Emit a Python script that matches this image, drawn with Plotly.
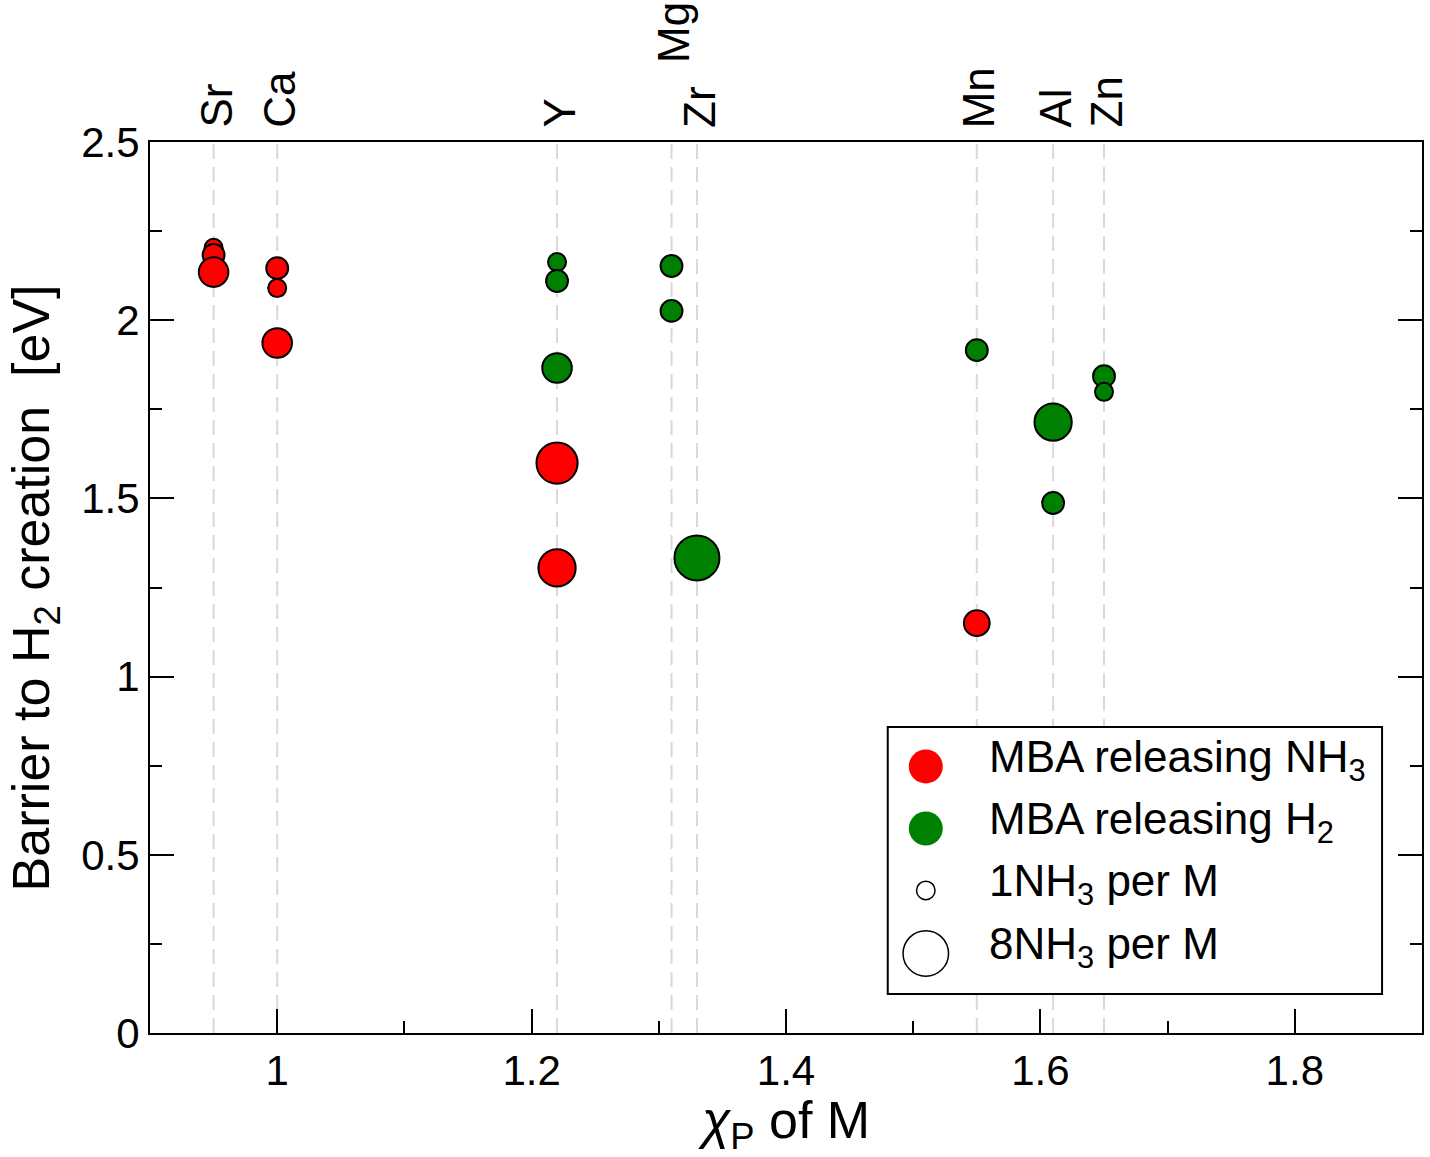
import plotly.graph_objects as go

# Pauling electronegativity of each metal M (vertical guide lines + top labels)
elements = ["Sr", "Ca", "Y", "Mg", "Zr", "Mn", "Al", "Zn"]
chi_p = [0.95, 1.00, 1.22, 1.31, 1.33, 1.55, 1.61, 1.65]

# MBA releasing NH3 (red)
nh3_x = [0.95, 0.95, 0.95, 1.00, 1.00, 1.00, 1.22, 1.22, 1.55]
nh3_y = [2.203, 2.183, 2.135, 2.146, 2.090, 1.936, 1.599, 1.305, 1.150]
nh3_n = [1, 2, 4, 2, 1, 4, 7, 6, 3]

# MBA releasing H2 (green)
h2_x = [1.22, 1.22, 1.22, 1.31, 1.31, 1.33, 1.55, 1.61, 1.61, 1.65, 1.65]
h2_y = [2.163, 2.110, 1.866, 2.152, 2.026, 1.333, 1.916, 1.714, 1.487, 1.843, 1.799]
h2_n = [1, 2, 4, 2, 2, 8, 2, 6, 2, 2, 1]

legend_labels = ["MBA releasing NH<sub>3</sub>", "MBA releasing H<sub>2</sub>",
                 "1NH<sub>3</sub> per M", "8NH<sub>3</sub> per M"]

FONT = "Liberation Sans, Arial, Helvetica, sans-serif"
LW = 2


def diam(n):
    # outer diameter (px) grows linearly with NH3 per M: 1 -> 20 px, 8 -> 47 px
    return 20 + (n - 1) * 27 / 7


def msize(ns):
    return [diam(n) - LW for n in ns]


fig = go.Figure()
fig.add_trace(go.Scatter(x=nh3_x, y=nh3_y, mode="markers", showlegend=False,
                         marker=dict(size=msize(nh3_n), color="#ff0000", opacity=1,
                                     line=dict(color="black", width=LW))))
fig.add_trace(go.Scatter(x=h2_x, y=h2_y, mode="markers", showlegend=False,
                         marker=dict(size=msize(h2_n), color="#008000", opacity=1,
                                     line=dict(color="black", width=LW))))

shapes = []
annotations = []
for el, c in zip(elements, chi_p):
    shapes.append(dict(type="line", xref="x", yref="paper", x0=c, x1=c, y0=0, y1=1,
                       line=dict(color="#d9d9d9", width=2, dash="15px,8px"),
                       layer="below"))
    annotations.append(dict(text=el, x=c, xref="x", y=1, yref="paper",
                            xanchor="center", yanchor="bottom", textangle=-90,
                            showarrow=False, xshift=2,
                            yshift=77 if el == "Mg" else 12,
                            font=dict(size=44, color="black", family=FONT)))

# y-axis title
annotations.append(dict(text="Barrier to H<sub>2</sub> creation\u00a0\u00a0[eV]",
                        x=-0.0905, y=0.5, xref="paper", yref="paper",
                        xanchor="center", yanchor="middle", textangle=-90,
                        showarrow=False, font=dict(size=52, color="black", family=FONT)))

# ---- hand-built legend (paper coordinates) ----
L_X0, L_X1, L_Y0, L_Y1 = 0.580, 0.9686, 0.0438, 0.3434
shapes.append(dict(type="rect", xref="paper", yref="paper", x0=L_X0, x1=L_X1,
                   y0=L_Y0, y1=L_Y1, line=dict(color="black", width=2),
                   fillcolor="white", layer="above"))
sym_x = 0.6099
row_y = [0.2992, 0.2296, 0.1600, 0.0893]
sym_style = [
    dict(d=34, fill="#ff0000", lw=0),
    dict(d=34, fill="#008000", lw=0),
    dict(d=diam(1), fill="rgba(0,0,0,0)", lw=1.5),
    dict(d=diam(8), fill="rgba(0,0,0,0)", lw=1.5),
]
for ry, st, lab in zip(row_y, sym_style, legend_labels):
    r = st["d"] / 2 - st["lw"] / 2
    shapes.append(dict(type="circle", xref="paper", yref="paper",
                       xsizemode="pixel", ysizemode="pixel",
                       xanchor=sym_x, yanchor=ry,
                       x0=-r, x1=r, y0=-r, y1=r,
                       fillcolor=st["fill"],
                       line=dict(color="black", width=st["lw"]),
                       layer="above"))
    annotations.append(dict(text=lab, x=0.6583, y=ry, xref="paper", yref="paper",
                            xanchor="left", yanchor="middle", showarrow=False,
                            yshift=6,
                            font=dict(size=44, color="black", family=FONT)))

fig.update_layout(
    width=1430, height=1157,
    margin=dict(l=150, r=6, t=142, b=124),
    paper_bgcolor="white", plot_bgcolor="white",
    font=dict(family=FONT, color="black", size=42),
    shapes=shapes, annotations=annotations,
    showlegend=False,
)
fig.update_xaxes(
    range=[0.9, 1.9], tick0=1.0, dtick=0.2, tickformat="~g",
    ticks="inside", ticklen=24, tickwidth=2, tickcolor="black",
    minor=dict(dtick=0.1, tick0=1.0, ticks="inside", ticklen=12, tickwidth=2, tickcolor="black"),
    showline=True, linecolor="black", linewidth=2, mirror=True,
    showgrid=False, zeroline=False,
    tickfont=dict(size=42),
    title=dict(text="<i>χ</i><sub>P</sub> of M", font=dict(size=52), standoff=8),
)
fig.update_yaxes(
    range=[0, 2.5], dtick=0.5, tickformat="~g",
    ticks="inside", ticklen=24, tickwidth=2, tickcolor="black",
    minor=dict(dtick=0.25, ticks="inside", ticklen=12, tickwidth=2, tickcolor="black"),
    showline=True, linecolor="black", linewidth=2, mirror="ticks",
    showgrid=False, zeroline=False,
    tickfont=dict(size=42),
)

fig.write_html("out.html")
